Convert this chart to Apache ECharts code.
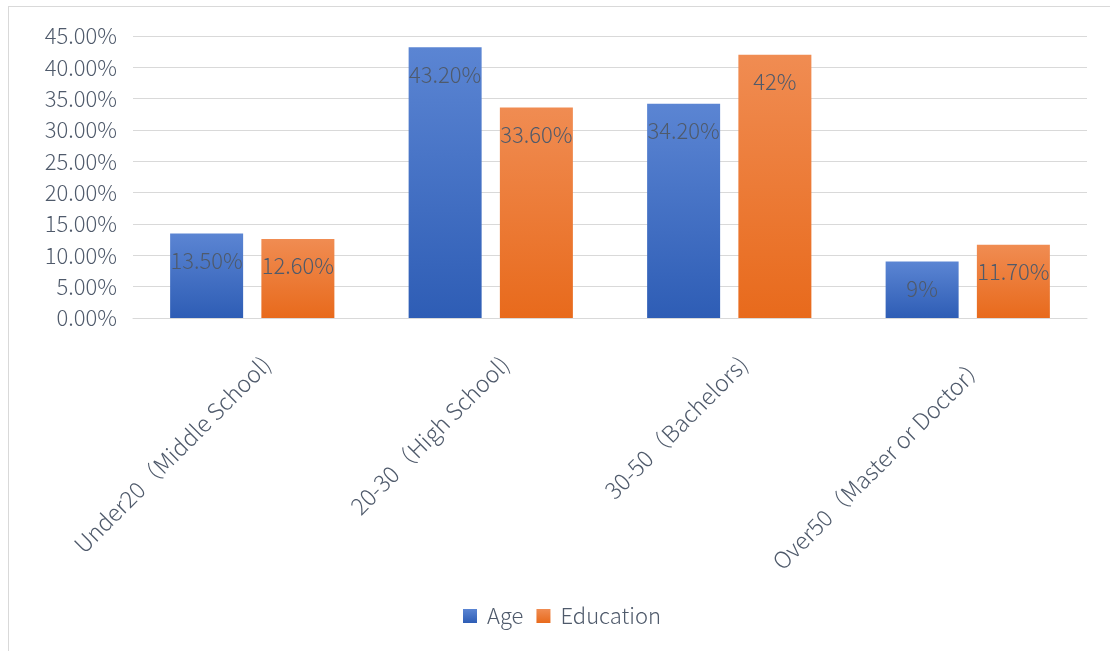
<!DOCTYPE html>
<html>
<head>
<meta charset="utf-8">
<script src="https://cdn.jsdelivr.net/npm/echarts@6/dist/echarts.min.js"></script>
<style>
  html, body { margin: 0; padding: 0; background: #fff; }
  #frame { position: absolute; left: 8px; top: 6px; width: 1110px; height: 660px; border: 1px solid #d9d9d9; box-sizing: border-box; }
  #main { position: absolute; left: 0; top: 0; width: 1110px; height: 651px; }
</style>
</head>
<body>
<div id="frame"></div>
<div id="main"></div>
<script>
// 类别与数据
var categories = ['Under20（Middle School)', '20-30（High School)', '30-50（Bachelors)', 'Over50（Master or Doctor）'];
var ageValues = [13.5, 43.2, 34.2, 9];
var eduValues = [12.6, 33.6, 42, 11.7];
var ageLabels = ['13.50%', '43.20%', '34.20%', '9%'];
var eduLabels = ['12.60%', '33.60%', '42%', '11.70%'];
var seriesNames = ['Age', 'Education'];

var fontFam = '"Noto Sans CJK SC", "Noto Sans", sans-serif';
var textColor = '#4f5a6b';

function grad(top, bottom) {
  return new echarts.graphic.LinearGradient(0, 0, 0, 1, [
    { offset: 0, color: top },
    { offset: 1, color: bottom }
  ]);
}

function barLabel(texts) {
  return {
    show: true,
    position: 'insideTop',
    distance: 16,
    color: textColor,
    fontSize: 22,
    fontFamily: fontFam,
    fontWeight: 300,
    formatter: function (p) { return texts[p.dataIndex]; }
  };
}

var myChart = echarts.init(document.getElementById('main'));
myChart.setOption({
  animation: false,
  textStyle: { fontFamily: fontFam },
  grid: { left: 133, right: 23, top: 36, bottom: 333, containLabel: false },
  legend: {
    bottom: 19,
    left: 458,
    itemWidth: 14,
    itemHeight: 14,
    itemGap: 13,
    icon: 'rect',
    textStyle: { color: textColor, fontSize: 22, fontFamily: fontFam, fontWeight: 300, padding: [0, 0, 0, 5] },
    data: seriesNames
  },
  xAxis: {
    type: 'category',
    data: categories,
    axisLine: { lineStyle: { color: '#d9d9d9' } },
    axisTick: { show: false },
    axisLabel: {
      rotate: 45,
      interval: 0,
      margin: 28,
      verticalAlign: 'top',
      lineHeight: 40,
      color: textColor,
      fontSize: 23,
      fontFamily: fontFam,
      fontWeight: 300
    }
  },
  yAxis: {
    type: 'value',
    min: 0,
    max: 45,
    interval: 5,
    axisLine: { show: false },
    axisTick: { show: false },
    splitLine: { lineStyle: { color: '#d9d9d9', width: 1 } },
    axisLabel: {
      margin: 16,
      color: textColor,
      fontSize: 22,
      fontFamily: fontFam,
      fontWeight: 300,
      formatter: function (v) { return v.toFixed(2) + '%'; }
    }
  },
  series: [{
    name: seriesNames[0],
    type: 'bar',
    data: ageValues,
    barWidth: 73,
    barGap: '25%',
    itemStyle: { color: grad('#5b85d3', '#2e5db5') },
    label: barLabel(ageLabels)
  }, {
    name: seriesNames[1],
    type: 'bar',
    data: eduValues,
    barWidth: 73,
    itemStyle: { color: grad('#f08c52', '#e86a1c') },
    label: barLabel(eduLabels)
  }]
});
</script>
</body>
</html>
